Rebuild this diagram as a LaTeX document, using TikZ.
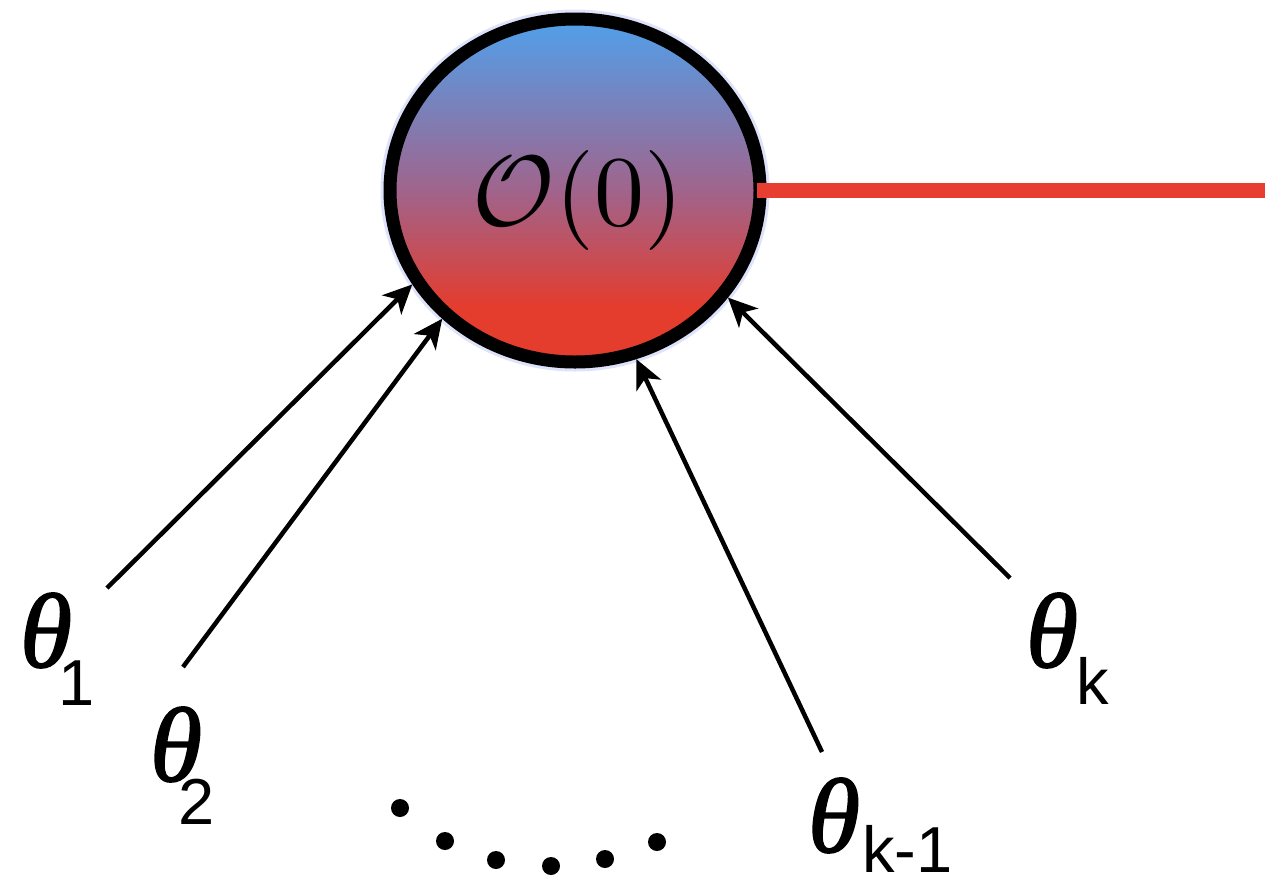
\documentclass[tikz,border=0pt]{standalone}
\usepackage{graphicx}
\usepackage{fontspec}
\usetikzlibrary{arrows.meta,shapes.geometric}
\newfontfamily\thfont{Liberation Serif Italic}[FakeBold=1.6]
\newfontfamily\subfont{Liberation Sans}
\definecolor{ballblue}{RGB}{80,160,235}
\definecolor{ballmid}{RGB}{160,100,140}
\definecolor{ballred}{RGB}{228,60,45}
\definecolor{linered}{RGB}{232,62,50}
\definecolor{halo}{RGB}{222,226,250}
\pgfdeclareverticalshading{ballshade}{100bp}{color(0bp)=(ballred); color(25bp)=(ballred); color(33bp)=(ballred); color(50bp)=(ballmid); color(75bp)=(ballblue); color(100bp)=(ballblue)}
\newcommand{\thlabel}[3]{{\fontsize{106}{106}\selectfont\thfont θ}\kern#1\raisebox{#2}{\fontsize{65}{65}\selectfont\subfont #3}}
\begin{document}
\begin{tikzpicture}[x=1pt,y=-1pt,
  conn/.style={line width=4.5pt,-{Stealth[length=29pt,width=27pt,inset=8pt]}},
  lbl/.style={anchor=base west,inner sep=0pt,outer sep=0pt},
  dotmark/.style={fill=black,circle,inner sep=0pt,minimum size=18pt}]
\useasboundingbox (0,0) rectangle (1265,876);
\draw[halo, line width=19pt] (575,190.5) ellipse [x radius=185pt, y radius=171.5pt];
\node[ellipse, draw=black, line width=13pt, minimum width=370pt, minimum height=343pt, inner sep=0pt, shading=ballshade] (ball) at (575,190.5) {};
\node[anchor=base, inner sep=0pt] (lab) at (578,225) {\scalebox{10}{\fontsize{10}{10}\selectfont$\mathcal{O}(0)$}};
\coordinate (lineend) at (1265,190.5);
\draw[line width=15pt, linered] ([xshift=-10pt]ball.east) -- (lineend);
% labels
\node[lbl] (t1) at (20,667) {\thlabel{-14pt}{-38pt}{1}};
\node[lbl] (t2) at (150,781) {\thlabel{-24pt}{-43pt}{2}};
\node[lbl] (tk1) at (808,852) {\thlabel{2pt}{-20pt}{k-1}};
\node[lbl] (tk) at (1026,667) {\thlabel{-2pt}{-37pt}{k}};
% arrow starts
\coordinate (s1) at (107,588);
\coordinate (s2) at (183,667);
\coordinate (s3) at (822,752);
\coordinate (s4) at (1010,578);
\draw[conn] (s1) -- (ball.210);
\draw[conn] (s2) -- (ball.224);
\draw[conn] (s3) -- (ball.290);
\draw[conn] (s4) -- (ball.325);
% dots
\node[dotmark] (d1) at (400,808) {};
\node[dotmark] (d2) at (445,841) {};
\node[dotmark] (d3) at (496,860) {};
\node[dotmark] (d4) at (551,866) {};
\node[dotmark] (d5) at (605,859) {};
\node[dotmark] (d6) at (657,842) {};
\end{tikzpicture}
\end{document}
